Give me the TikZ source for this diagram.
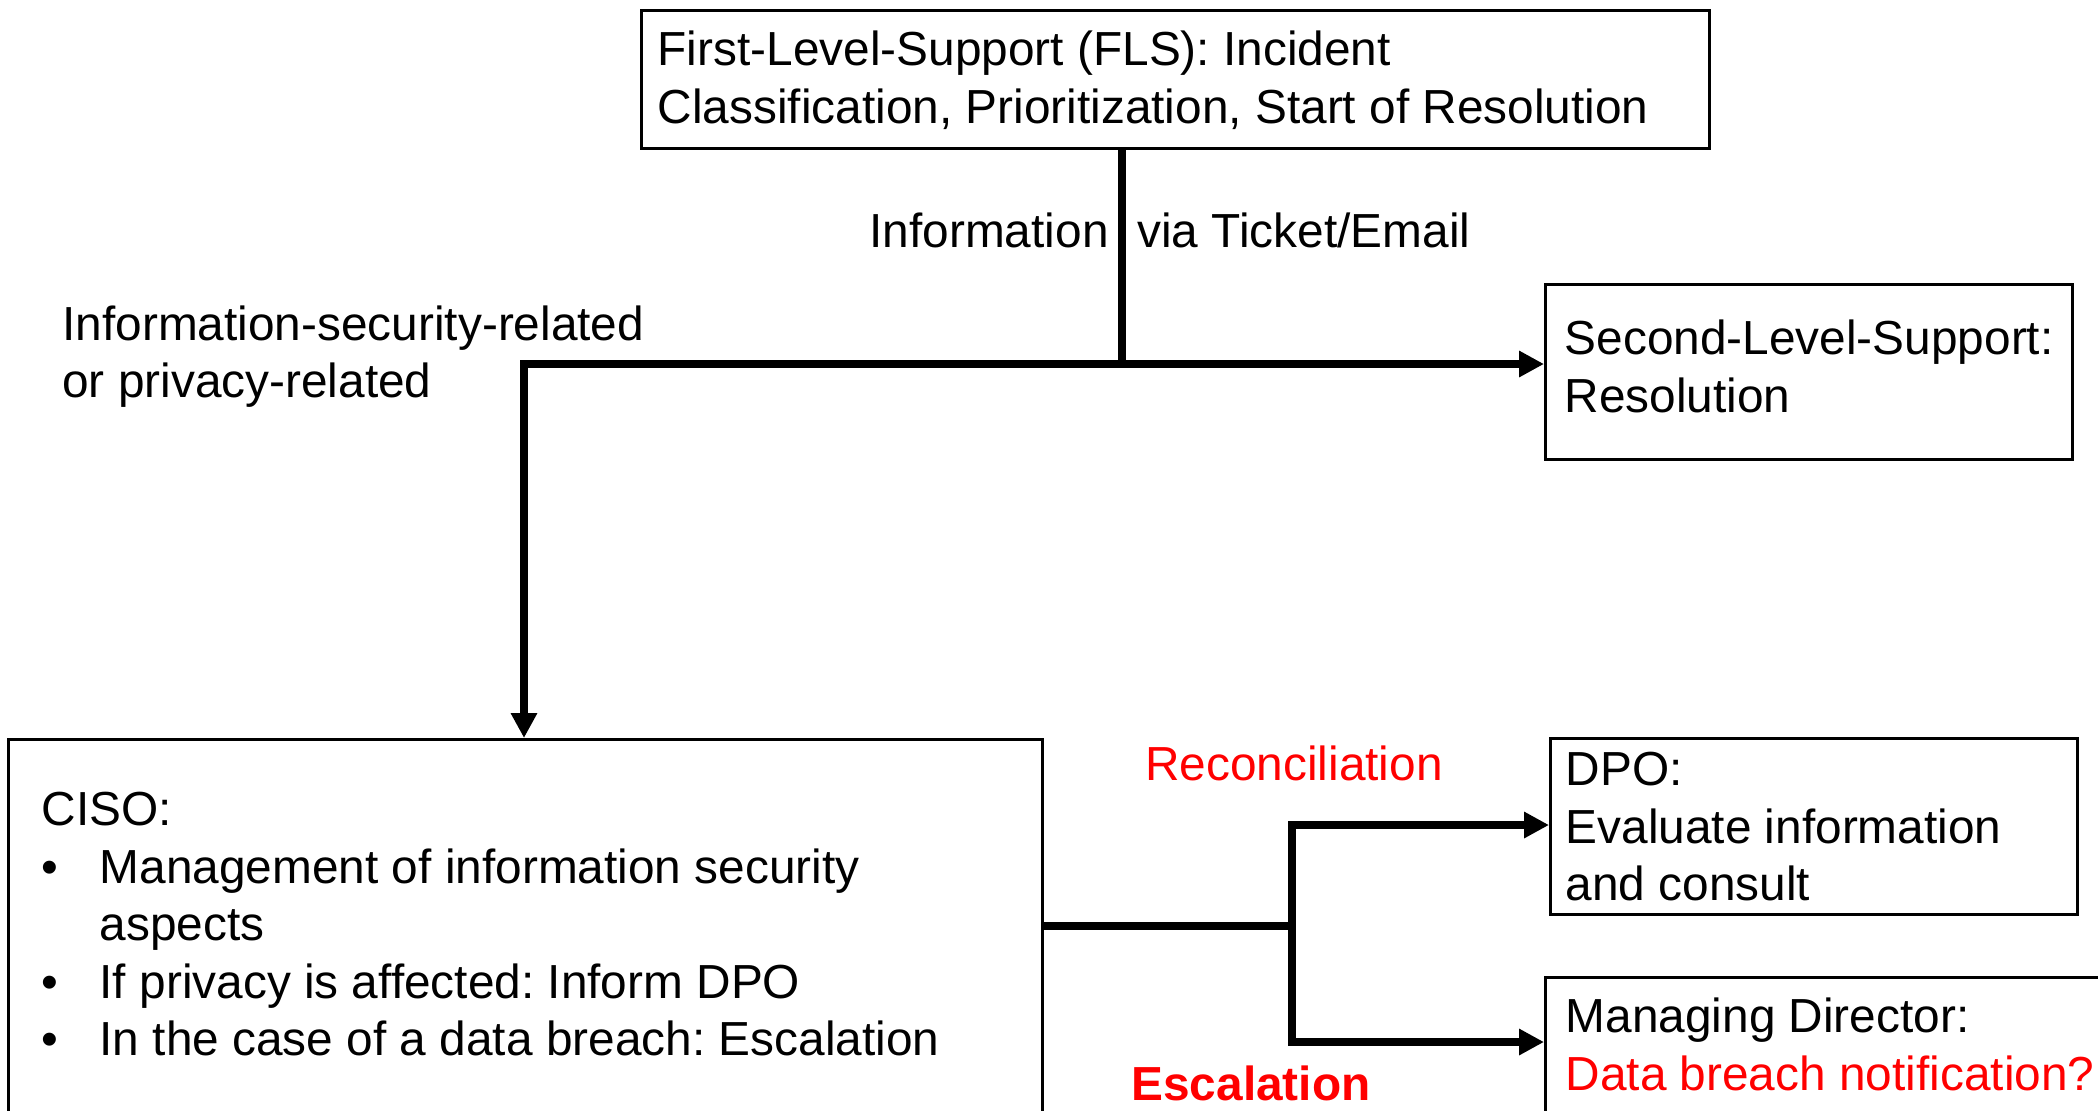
\documentclass[tikz,border=0pt]{standalone}
\usepackage{fontspec}
\setmainfont{Liberation Sans}
\usetikzlibrary{arrows.meta}
\frenchspacing
\newcommand\mytext[2]{\vtop{\def\L##1{\hbox to #1{##1\hfil}}#2}}
\newcommand\bul{\hbox to 29pt{\textbullet\hfil}}
\newcommand\indentbox{\hbox to 29pt{}}
\begin{document}
\begin{tikzpicture}[x=0.5pt,y=-0.5pt,
  every node/.style={font=\fontsize{23.9}{28.75}\selectfont},
  box/.style={draw, line width=1.7pt, rectangle, anchor=north west, inner ysep=0pt},
  conn/.style={line width=3.7pt},
  arr/.style={conn, -{Triangle[length=12.5pt,width=12.5pt]}},
  lbl/.style={inner sep=0pt}]
\useasboundingbox (0,0) rectangle (2098,1110);
\clip (0,0) rectangle (2098,1110);

% boxes
\node[box, inner xsep=8pt, text height=27.5pt, text depth=41.5pt] (fls) at (640,9)
  {\mytext{518pt}{\L{First-Level-Support (FLS): Incident}\L{Classification, Prioritization, Start of Resolution}}};
\node[box, inner xsep=9.5pt, text height=35pt, text depth=52.5pt] (sls) at (1544,283)
  {\mytext{244.5pt}{\L{Second-Level-Support:}\L{Resolution}}};
\node[box, inner xsep=16.5pt, text height=43pt, text depth=188pt] (ciso) at (7,738)
  {\mytext{484pt}{\L{CISO:}\L{\bul Management of information security}\L{\indentbox aspects}\L{\bul If privacy is affected: Inform DPO}\L{\bul In the case of a data breach: Escalation}}};
\node[box, inner xsep=7.5pt, text height=23.5pt, text depth=64.5pt] (dpo) at (1549,737)
  {\mytext{248.5pt}{\L{DPO:}\L{Evaluate information}\L{and consult}}};
\node[box, inner xsep=10pt, text height=27.5pt, text depth=84.5pt] (md) at (1544,976)
  {\mytext{273pt}{\L{Managing Director:}\L{\textcolor{red}{Data breach notification?}}}};

% labels
\node[lbl, anchor=base east] (info1) at (1109,247) {Information};
\node[lbl, anchor=base west] (info2) at (1137,247) {via Ticket/Email};
\node[lbl, anchor=base west] (isr) at (62,340)
  {\mytext{300pt}{\L{Information-security-related}\L{or privacy-related}}};
\node[lbl, anchor=base, text=red] (rec) at (1294,780) {Reconciliation};
\node[lbl, anchor=base, text=red, font=\fontsize{23.9}{28.75}\selectfont\bfseries] (esc) at (1251,1100) {Escalation};

% junctions
\coordinate (j1) at (1122,364);
\coordinate (j2) at (524,364);
\coordinate (k) at (1292,926);
\coordinate (ku) at (1292,825);
\coordinate (kd) at (1292,1042);

% connectors
\draw[conn] (j1 |- fls.south) -- (j1);
\draw[arr] (j1) -- (j1 -| sls.west);
\draw[arr] (j1) -- (j2) -- (j2 |- ciso.north);
\draw[conn] (ciso.east |- k) -- (k);
\draw[arr] (k) -- (ku) -- (ku -| dpo.west);
\draw[arr] (k) -- (kd) -- (kd -| md.west);
\end{tikzpicture}
\end{document}
